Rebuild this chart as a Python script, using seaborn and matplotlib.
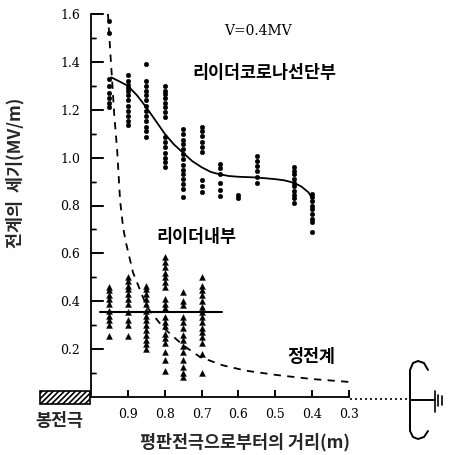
import numpy as np
import pandas as pd
import matplotlib
matplotlib.use("Agg")
import matplotlib.pyplot as plt
import seaborn as sns
from matplotlib.patches import Rectangle

sns.set_theme(style="ticks")
plt.rcParams["font.family"] = ["Noto Sans CJK KR", "DejaVu Sans"]
plt.rcParams["axes.axisbelow"] = False
plt.rcParams["hatch.linewidth"] = 1.2
plt.rcParams["axes.spines.top"] = False
plt.rcParams["axes.spines.right"] = False
plt.rcParams["xtick.direction"] = "in"
plt.rcParams["ytick.direction"] = "in"
plt.rcParams["xtick.major.size"] = 5
plt.rcParams["ytick.major.size"] = 9
plt.rcParams["ytick.minor.size"] = 3.5
plt.rcParams["xtick.major.width"] = 1.1
plt.rcParams["ytick.major.width"] = 1.1
plt.rcParams["ytick.minor.width"] = 1.0
plt.rcParams["xtick.color"] = "black"
plt.rcParams["ytick.color"] = "black"

# ---------------- data ----------------
tip_dist = [0.95, 0.90, 0.85, 0.80, 0.75, 0.70, 0.65, 0.60, 0.55, 0.45, 0.40]
tip_vals = [
    [1.57, 1.52, 1.33, 1.30, 1.27, 1.25, 1.23, 1.21],
    [1.345, 1.32, 1.305, 1.29, 1.28, 1.26, 1.24, 1.215, 1.195, 1.175, 1.155, 1.135],
    [1.39, 1.32, 1.30, 1.28, 1.26, 1.24, 1.215, 1.195, 1.175, 1.155, 1.13, 1.11, 1.085],
    [1.30, 1.28, 1.265, 1.25, 1.23, 1.21, 1.19, 1.17, 1.085, 1.065, 1.045, 1.02, 1.00, 0.98, 0.96],
    [1.12, 1.10, 1.075, 1.055, 1.035, 1.015, 0.995, 0.97, 0.95, 0.93, 0.91, 0.89, 0.87, 0.835],
    [1.13, 1.11, 1.09, 1.065, 1.045, 1.025, 0.905, 0.88, 0.855],
    [0.975, 0.955, 0.93, 0.895, 0.865, 0.84],
    [0.845, 0.83],
    [1.005, 0.985, 0.965, 0.945, 0.92, 0.895],
    [0.96, 0.945, 0.93, 0.91, 0.895, 0.88, 0.86, 0.845, 0.83, 0.81],
    [0.85, 0.835, 0.82, 0.80, 0.785, 0.765, 0.745, 0.73, 0.69],
]
inner_dist = [0.95, 0.90, 0.85, 0.80, 0.75, 0.70]
inner_vals = [
    [0.46, 0.445, 0.425, 0.41, 0.39, 0.36, 0.34, 0.32, 0.30, 0.255],
    [0.50, 0.485, 0.465, 0.45, 0.43, 0.41, 0.39, 0.355, 0.32, 0.30, 0.255],
    [0.465, 0.45, 0.43, 0.41, 0.39, 0.36, 0.34, 0.32, 0.30, 0.28, 0.26, 0.24, 0.22, 0.20],
    [0.585, 0.565, 0.545, 0.52, 0.50, 0.48, 0.46, 0.41, 0.39, 0.37, 0.335, 0.315,
     0.295, 0.265, 0.245, 0.225, 0.19, 0.155, 0.11],
    [0.44, 0.40, 0.385, 0.335, 0.315, 0.29, 0.26, 0.24, 0.215, 0.19, 0.155, 0.125, 0.10, 0.085],
    [0.50, 0.465, 0.445, 0.425, 0.40, 0.375, 0.355, 0.335, 0.315, 0.29, 0.27, 0.25,
     0.225, 0.18, 0.10],
]
tip_curve_x = [0.945, 0.925, 0.90, 0.875, 0.85, 0.825, 0.80, 0.775, 0.75, 0.725,
               0.70, 0.675, 0.65, 0.625, 0.60, 0.55, 0.50, 0.475, 0.45, 0.43, 0.41, 0.40]
tip_curve_y = [1.335, 1.32, 1.30, 1.26, 1.21, 1.155, 1.10, 1.055, 1.02, 0.985,
               0.96, 0.94, 0.93, 0.923, 0.92, 0.917, 0.91, 0.905, 0.895, 0.88, 0.855, 0.83]
static_x = [0.954, 0.948, 0.943, 0.937, 0.929, 0.921, 0.913, 0.906, 0.886, 0.848,
            0.804, 0.75, 0.704, 0.644, 0.58, 0.497, 0.40, 0.30]
static_y = [1.60, 1.45, 1.33, 1.18, 1.03, 0.82, 0.71, 0.65, 0.52, 0.375,
            0.29, 0.216, 0.167, 0.133, 0.11, 0.092, 0.075, 0.063]
inner_mean = 0.355
inner_span = [0.975, 0.645]
xticks = [0.9, 0.8, 0.7, 0.6, 0.5, 0.4, 0.3]
yticks = [0.2, 0.4, 0.6, 0.8, 1.0, 1.2, 1.4, 1.6]
yminor = [0.1, 0.3, 0.5, 0.7, 0.9, 1.1, 1.3, 1.5]

tip_df = pd.DataFrame([(d, v) for d, vs in zip(tip_dist, tip_vals) for v in vs],
                      columns=["dist", "field"])
inner_df = pd.DataFrame([(d, v) for d, vs in zip(inner_dist, inner_vals) for v in vs],
                        columns=["dist", "field"])
curve_df = pd.DataFrame({"dist": tip_curve_x, "field": tip_curve_y})
static_df = pd.DataFrame({"dist": static_x, "field": static_y})
mean_df = pd.DataFrame({"dist": inner_span, "field": [inner_mean, inner_mean]})

# ---------------- figure ----------------
W, H = 452, 455
fig = plt.figure(figsize=(W / 100, H / 100), dpi=100)
fig.patch.set_facecolor("white")

ax = fig.add_axes([91 / W, 58 / H, 258 / W, 383 / H])
ax.patch.set_alpha(0)

sns.scatterplot(data=tip_df, x="dist", y="field", ax=ax, marker="o", s=11,
                color="black", edgecolor="black", linewidth=0.3, clip_on=False, zorder=3)
sns.scatterplot(data=inner_df, x="dist", y="field", ax=ax, marker="^", s=18,
                color="black", edgecolor="black", linewidth=0.3, clip_on=False, zorder=3)
sns.lineplot(data=curve_df, x="dist", y="field", ax=ax, sort=False, estimator=None,
             color="black", linewidth=1.3, zorder=4)
sns.lineplot(data=static_df, x="dist", y="field", ax=ax, sort=False, estimator=None,
             color="black", linewidth=1.3, zorder=2, clip_on=False)
ax.lines[-1].set_dashes((4, 3.5))
sns.lineplot(data=mean_df, x="dist", y="field", ax=ax, sort=False, estimator=None,
             color="black", linewidth=1.5, zorder=4)

ax.set_xlim(1.0, 0.3)
ax.set_ylim(0, 1.6)
ax.set_xlabel("")
ax.set_ylabel("")
for s in ["left", "bottom"]:
    ax.spines[s].set_color("black")
    ax.spines[s].set_linewidth(1.3)

ax.xaxis.set_major_locator(matplotlib.ticker.FixedLocator(xticks))
ax.yaxis.set_major_locator(matplotlib.ticker.FixedLocator(yticks))
ax.yaxis.set_minor_locator(matplotlib.ticker.FixedLocator(yminor))
ax.xaxis.set_major_formatter(matplotlib.ticker.FormatStrFormatter("%.1f"))
ax.yaxis.set_major_formatter(matplotlib.ticker.FormatStrFormatter("%.1f"))
ax.tick_params(axis="both", which="major", labelsize=9, pad=8,
               labelfontfamily="DejaVu Serif")

# annotations
ax.text(0.546, 1.529, "V=0.4MV", fontfamily="DejaVu Serif", fontsize=10,
        ha="center", va="center", color="black")
ax.text(0.530, 1.354, "리이더코로나선단부", fontsize=12.5, fontweight="bold",
        ha="center", va="center", color="black")
ax.text(0.715, 0.667, "리이더내부", fontsize=12.5, fontweight="bold",
        ha="center", va="center", color="black")
ax.text(0.402, 0.167, "정전계", fontsize=12.5, fontweight="bold",
        ha="center", va="center", color="black")

# overlay axes in pixel units (on top) for tick reinforcement, electrodes and outer labels
deco = fig.add_axes([0, 0, 1, 1], zorder=5)
deco.set_xlim(0, W)
deco.set_ylim(H, 0)
deco.axis("off")
deco.patch.set_alpha(0)


def to_px(x, y):
    dx, dy = ax.transData.transform((x, y))
    return dx * W / fig.bbox.width, H - dy * H / fig.bbox.height


x_left = to_px(1.0, 0)[0]
y_base = to_px(1.0, 0)[1]
for t in yticks:
    yy = to_px(1.0, t)[1]
    deco.plot([x_left, x_left + 12], [yy, yy], color="black", linewidth=1.2,
              solid_capstyle="butt")
for t in yminor:
    yy = to_px(1.0, t)[1]
    deco.plot([x_left, x_left + 5], [yy, yy], color="black", linewidth=1.0,
              solid_capstyle="butt")
for t in xticks:
    xx = to_px(t, 0)[0]
    deco.plot([xx, xx], [y_base, y_base - 7], color="black", linewidth=1.2,
              solid_capstyle="butt")

deco.text(15, 173, "전계의  세기(MV/m)", rotation=90, fontsize=12.5,
          fontweight="bold", ha="center", va="center")
deco.text(245, 442, "평판전극으로부터의 거리(m)", fontsize=12.5,
          fontweight="bold", ha="center", va="center")
deco.text(59, 421, "봉전극", fontsize=12.5, fontweight="bold",
          ha="center", va="center")

# rod electrode (hatched)
deco.add_patch(Rectangle((40, 391), 50, 13, facecolor="white", edgecolor="black",
                         hatch="//////", linewidth=1.2))
# dotted gap to the plate electrode
deco.plot([350, 410], [399, 399], color="black", linestyle=(0, (1.2, 1.8)), linewidth=1.2)
# plate electrode outline and earth symbol
plate_x = [428, 424, 418, 413, 410, 410, 410, 413, 418, 424, 428]
plate_y = [370, 363, 361, 363, 370, 399, 431, 437, 439, 437, 431]
deco.plot(plate_x, plate_y, color="black", linewidth=1.4)
deco.plot([410, 435], [400, 400], color="black", linewidth=1.4)
for gx, g0, g1 in [(435, 391, 412), (438.5, 395, 406), (442, 396, 405)]:
    deco.plot([gx, gx], [g0, g1], color="black", linewidth=1.2)

fig.savefig("out.png", dpi=100, facecolor="white")
